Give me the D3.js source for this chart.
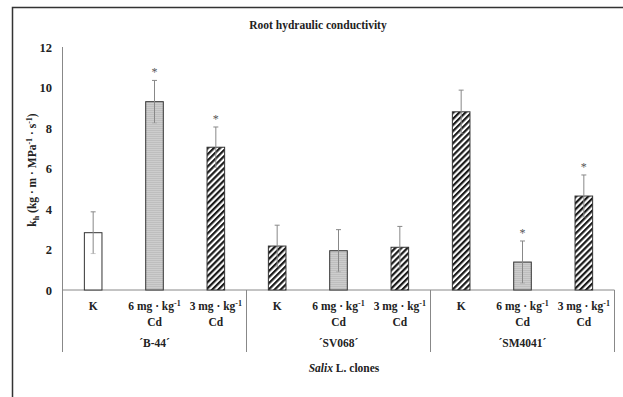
<!DOCTYPE html>
<html><head><meta charset="utf-8">
<script src="https://cdn.jsdelivr.net/npm/d3@7"></script>
<style>body{margin:0;background:#fff}svg{display:block}</style>
</head><body><svg id="c" width="623" height="397" font-family="Liberation Serif, Times New Roman, DejaVu Serif, serif" font-weight="bold"></svg>
<script>
const groups = ["´B-44´", "´SV068´", "´SM4041´"];
const treatments = ["K", "6 mg · kg⁻¹|Cd", "3 mg · kg⁻¹|Cd"];
const values = [[2.83, 9.3, 7.05], [2.17, 1.94, 2.11], [8.8, 1.38, 4.64]];
const errors = [[1.03, 1.05, 1.0], [1.03, 1.04, 1.03], [1.07, 1.04, 1.04]];
const fills = [["white", "dots", "stripes"], ["stripes", "dots", "stripes"], ["stripes", "dots", "stripes"]];
const stars = [[false, true, true], [false, false, false], [false, true, true]];
const yTicks = [0, 2, 4, 6, 8, 10, 12];

const svg = d3.select("#c");
const defs = svg.append("defs");
const st = defs.append("pattern").attr("id", "stripes").attr("patternUnits", "userSpaceOnUse")
  .attr("width", 4.3).attr("height", 4.3).attr("patternTransform", "rotate(45)");
st.append("rect").attr("width", 4.3).attr("height", 4.3).attr("fill", "#fff");
st.append("rect").attr("width", 2.2).attr("height", 4.3).attr("fill", "#1a1a1a");
const dp = defs.append("pattern").attr("id", "dots").attr("patternUnits", "userSpaceOnUse")
  .attr("width", 2).attr("height", 2);
dp.append("rect").attr("width", 2).attr("height", 2).attr("fill", "#e2e2e2");
dp.append("rect").attr("width", 1).attr("height", 1).attr("fill", "#9a9a9a");
dp.append("rect").attr("x", 1).attr("y", 1).attr("width", 1).attr("height", 1).attr("fill", "#b8b8b8");

// frame
svg.append("path").attr("d", "M12.5,397 V7.5 H623").attr("fill", "none").attr("stroke", "#333").attr("stroke-width", 1.5);

const x0 = 62.5, x1 = 614.5, yBase = 290, yTop = 47;
const y = d3.scaleLinear().domain([0, 12]).range([yBase, yTop]);
const gx = d3.scaleBand().domain(groups).range([x0, x1]);
const tx = d3.scaleBand().domain(treatments).range([0, gx.bandwidth()]);
const bw = 17.6;

svg.append("text").attr("x", 318).attr("y", 29).attr("text-anchor", "middle").attr("font-size", 11.5).attr("fill", "#222").text("Root hydraulic conductivity");

// y axis
svg.append("line").attr("x1", x0).attr("x2", x0).attr("y1", yTop).attr("y2", yBase).attr("stroke", "#888");
svg.selectAll(".yt").data(yTicks).join("text").attr("x", 52).attr("y", d => y(d) + 4.5)
  .attr("text-anchor", "end").attr("font-size", 12.5).attr("fill", "#222").text(d => d);

// y label
const yl = svg.append("text").attr("transform", "translate(36,170) rotate(-90)").attr("text-anchor", "middle").attr("font-size", 11.5).attr("fill", "#222");
yl.append("tspan").text("k");
yl.append("tspan").attr("font-size", 8).attr("dy", 3).text("h");
yl.append("tspan").attr("dy", -3).text(" (kg · m · MPa");
yl.append("tspan").attr("font-size", 8).attr("dy", -4).text("-1");
yl.append("tspan").attr("dy", 4).text(" · s");
yl.append("tspan").attr("font-size", 8).attr("dy", -4).text("-1");
yl.append("tspan").attr("dy", 4).text(")");

// x axis
svg.append("line").attr("x1", x0).attr("x2", x1).attr("y1", yBase).attr("y2", yBase).attr("stroke", "#888");
svg.selectAll(".sep").data([x0, gx(groups[1]), gx(groups[2]), x1]).join("line")
  .attr("x1", d => d).attr("x2", d => d).attr("y1", yBase).attr("y2", 352).attr("stroke", "#888");

groups.forEach((g, gi) => {
  const gg = svg.append("g").attr("transform", `translate(${gx(g)},0)`);
  treatments.forEach((t, ti) => {
    const cx = tx(t) + tx.bandwidth() / 2;
    const v = values[gi][ti], e = errors[gi][ti];
    const f = fills[gi][ti];
    gg.append("rect").attr("x", cx - bw / 2).attr("y", y(v)).attr("width", bw).attr("height", yBase - y(v))
      .attr("fill", f === "white" ? "#fff" : `url(#${f})`).attr("stroke", "#333").attr("stroke-width", 1);
    gg.append("line").attr("x1", cx).attr("x2", cx).attr("y1", y(v + e)).attr("y2", y(v - e)).attr("stroke", "#888").attr("stroke-width", 1);
    gg.append("line").attr("x1", cx - 2.5).attr("x2", cx + 2.5).attr("y1", y(v + e)).attr("y2", y(v + e)).attr("stroke", "#888");
    gg.append("line").attr("x1", cx - 2.5).attr("x2", cx + 2.5).attr("y1", y(v - e)).attr("y2", y(v - e)).attr("stroke", "#999").attr("stroke-opacity", 0.5);
    if (stars[gi][ti]) gg.append("text").attr("x", cx).attr("y", y(v + e) - 4).attr("text-anchor", "middle").attr("font-size", 12).attr("font-weight", "normal").attr("fill", "#555").text("*");
    const lines = t.split("|");
    lines.forEach((ln, li) => {
      const tt = gg.append("text").attr("x", cx).attr("y", 310 + li * 15.5).attr("text-anchor", "middle").attr("font-size", 11.5).attr("fill", "#222");
      if (ln.includes("⁻¹")) {
        tt.append("tspan").text(ln.replace("⁻¹", ""));
        tt.append("tspan").attr("font-size", 8).attr("dy", -4).text("-1");
      } else tt.text(ln);
    });
  });
  gg.append("text").attr("x", gx.bandwidth() / 2).attr("y", 347).attr("text-anchor", "middle").attr("font-size", 11.5).attr("fill", "#222").text(g);
});

const xl = svg.append("text").attr("x", 344).attr("y", 372).attr("text-anchor", "middle").attr("font-size", 11.5).attr("fill", "#222");
xl.append("tspan").attr("font-style", "italic").text("Salix");
xl.append("tspan").text(" L. clones");
</script></body></html>
